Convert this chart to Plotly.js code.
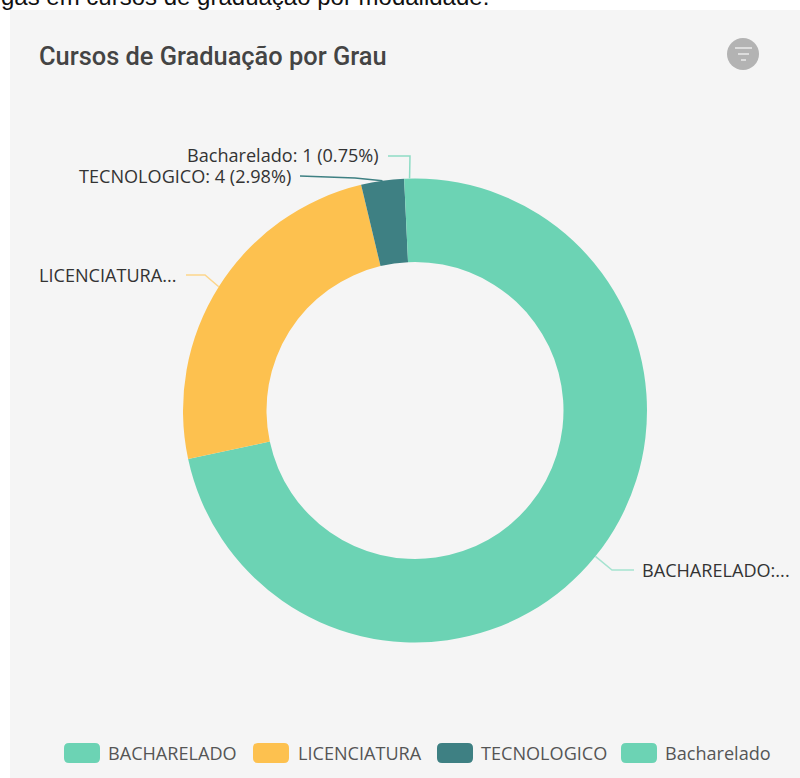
<!DOCTYPE html>
<html><head><meta charset="utf-8">
<script src="https://cdn.plot.ly/plotly-3.0.1.min.js"></script>
<style>html,body{margin:0;padding:0;background:#fff;overflow:hidden}#c{width:800px;height:778px}</style>
</head><body><div id="c"></div>
<script>
const categories = ['BACHARELADO','LICENCIATURA','TECNOLOGICO','Bacharelado'];
const values = [96,33,4,1];
const colors = ['#6cd3b4','#fdc14f','#3e8083','#6cd3b4'];
const lineColors = ['#a5e3d0','#fdd68c','#3e8083','#8edcc5'];
const sliceLabels = ['BACHARELADO:...','LICENCIATURA...','TECNOLOGICO: 4 (2.98%)','Bacharelado: 1 (0.75%)'];
const titleText = 'Cursos de Graduação por Grau';
const captionText = 'gas em cursos de graduação por modalidade:';

const W=800,H=778,cx=415,cy=410.5,R=232,r=148.5;
const px=x=>x/W, py=y=>1-y/H;
const total=values.reduce((a,b)=>a+b,0);

const labelFont={family:'"Open Sans", "Noto Sans", sans-serif',size:18.1,color:'#333333'};
const shapes=[],annotations=[];
const pl=(pts,color,width)=>shapes.push({type:'path',xref:'paper',yref:'paper',
  path:'M'+pts.map(p=>px(p[0])+','+py(p[1])).join(' L'),line:{color:color,width:width||1}});
// panel
shapes.push({type:'rect',xref:'paper',yref:'paper',x0:px(10),x1:1.01,y0:-0.01,y1:py(10),fillcolor:'#f5f5f5',line:{width:0},layer:'below'});

// leader lines and slice labels, placed from the slice mid-angle
const leaders=[
 {e:[612,570],end:[634,570],tx:641,ty:570,anchor:'left'},
 {e:[205,275],end:[186,275],tx:178,ty:275,anchor:'right'},
 {e:[355,178],end:[300,176],tx:292,ty:176,anchor:'right'},
 {e:[410,156],end:[388,156],tx:380,ty:155,anchor:'right'}
];
let acc=0;
values.forEach((v,i)=>{
  const a=(acc+v/2)/total*2*Math.PI; acc+=v;
  const s=[cx+R*Math.sin(a),cy-R*Math.cos(a)], L=leaders[i];
  pl([s,L.e,L.end],lineColors[i],1.5);
  annotations.push({xref:'paper',yref:'paper',x:px(L.tx),y:py(L.ty),xanchor:L.anchor,yanchor:'middle',
    text:sliceLabels[i],showarrow:false,font:labelFont,borderpad:0});
});

// legend
const legX=[64,253,437,621], legT=[107,297,480,664], ly0=743, ly1=763, sw=36, rd=5;
categories.forEach((c,i)=>{
  const x0=legX[i],x1=x0+sw;
  const P=(x,y)=>px(x)+','+py(y);
  shapes.push({type:'path',xref:'paper',yref:'paper',fillcolor:colors[i],line:{width:0},
    path:`M${P(x0+rd,ly0)} L${P(x1-rd,ly0)} Q${P(x1,ly0)} ${P(x1,ly0+rd)} L${P(x1,ly1-rd)} Q${P(x1,ly1)} ${P(x1-rd,ly1)} L${P(x0+rd,ly1)} Q${P(x0,ly1)} ${P(x0,ly1-rd)} L${P(x0,ly0+rd)} Q${P(x0,ly0)} ${P(x0+rd,ly0)} Z`});
  annotations.push({xref:'paper',yref:'paper',x:px(legT[i]),y:py(753),xanchor:'left',yanchor:'middle',
    text:c,showarrow:false,font:{...labelFont,color:'#555555'},borderpad:0});
});

// filter icon
shapes.push({type:'circle',xref:'paper',yref:'paper',x0:px(727),x1:px(759),y0:py(70),y1:py(38),fillcolor:'#b3b3b3',line:{width:0}});
[[735,752,48],[738,749,54],[741,746,60]].forEach(b=>pl([[b[0],b[2]],[b[1],b[2]]],'#dddddd',2));

// title and clipped caption
annotations.push({xref:'paper',yref:'paper',x:px(38),y:py(56),xanchor:'left',yanchor:'middle',text:titleText,
  showarrow:false,font:{family:'Roboto, sans-serif',size:25.4,weight:500,color:'#444444'},borderpad:0});
annotations.push({xref:'paper',yref:'paper',x:0,y:py(-3),xanchor:'left',yanchor:'middle',text:captionText,
  showarrow:false,font:{family:'"Liberation Sans", Arial, sans-serif',size:24,color:'#111111'},borderpad:0});

Plotly.newPlot('c',[{type:'pie',labels:categories,values:values,sort:false,direction:'clockwise',rotation:0,
  hole:r/R,textinfo:'none',marker:{colors:colors,line:{width:0}},showlegend:false,automargin:false,
  domain:{x:[px(cx-R),px(cx+R)],y:[py(cy+R),py(cy-R)]}}],
 {width:W,height:H,margin:{l:0,r:0,t:0,b:0},paper_bgcolor:'#ffffff',plot_bgcolor:'rgba(0,0,0,0)',shapes,annotations,showlegend:false},
 {displayModeBar:false,responsive:false});
</script></body></html>
